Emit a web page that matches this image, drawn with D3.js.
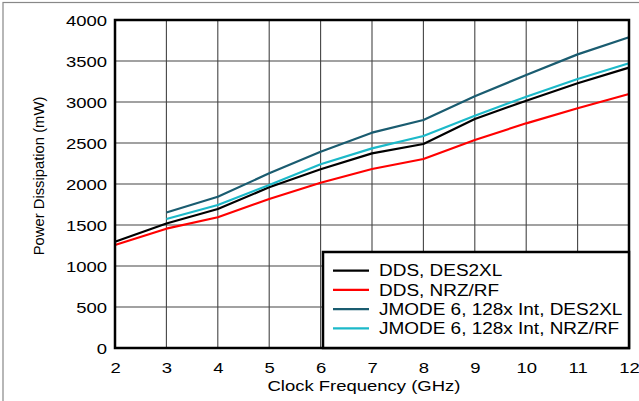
<!DOCTYPE html>
<html><head><meta charset="utf-8">
<script src="https://cdn.jsdelivr.net/npm/d3@7"></script>
<style>body{margin:0;background:#fff}svg{display:block}text{font-family:"Liberation Sans",Arial,sans-serif;fill:#000}</style>
</head><body>
<svg id="c" width="639" height="401"></svg>
<script>
const freqs = [2,3,4,5,6,7,8,9,10,11,12];
const ddsDes2xl = [1296,1518,1695,1960,2179,2374,2488,2793,3016,3228,3419];
const ddsNrz = [1256,1455,1594,1817,2016,2183,2305,2537,2740,2923,3098];
const jmodeDes2xl = [null,1652,1845,2130,2394,2626,2780,3070,3329,3581,3789];
const jmodeNrz = [null,1573,1744,1988,2240,2435,2585,2833,3065,3280,3472];
const seriesNames = ["DDS, DES2XL","DDS, NRZ/RF","JMODE 6, 128x Int, DES2XL","JMODE 6, 128x Int, NRZ/RF"];
const seriesColors = ["#000000","#ff0000","#1a5c70","#1cb9c9"];
const xTicks = [2,3,4,5,6,7,8,9,10,11,12];
const yTicks = [0,500,1000,1500,2000,2500,3000,3500,4000];

const seriesVals = [ddsDes2xl, ddsNrz, jmodeDes2xl, jmodeNrz];
const svg = d3.select("#c");
const L=115, R=629, T=20, B=348;
const x = d3.scaleLinear().domain([2,12]).range([L,R]);
const y = d3.scaleLinear().domain([0,4000]).range([B,T]);
const STRETCH = 1.2;
function stretch(sel){ sel.each(function(){ const w=this.getComputedTextLength(); d3.select(this).attr("textLength", w*STRETCH).attr("lengthAdjust","spacingAndGlyphs"); }); }

// outer border
svg.append("rect").attr("x",3).attr("y",2.5).attr("width",700).attr("height",500).attr("fill","none").attr("stroke","#888").attr("stroke-width",1.2);

// grid
const g = svg.append("g");
g.selectAll("line.vx").data(xTicks).join("line").attr("x1",d=>x(d)).attr("x2",d=>x(d)).attr("y1",T).attr("y2",B).attr("stroke","#444").attr("stroke-width",1.1);
g.selectAll("line.hy").data(yTicks).join("line").attr("y1",d=>y(d)).attr("y2",d=>y(d)).attr("x1",L).attr("x2",R).attr("stroke","#444").attr("stroke-width",1.1);

// series
const line = d3.line().defined(d=>d[1]!=null).x(d=>x(d[0])).y(d=>y(d[1]));
seriesVals.forEach((vals,i)=>{
  svg.append("path").datum(freqs.map((f,j)=>[f,vals[j]])).attr("d",line).attr("fill","none").attr("stroke",seriesColors[i]).attr("stroke-width",2.2).attr("stroke-linejoin","round");
});

// frame
svg.append("rect").attr("x",L).attr("y",T).attr("width",R-L).attr("height",B-T).attr("fill","none").attr("stroke","#000").attr("stroke-width",2.5);

// axes (labels only)
const xa = svg.append("g").attr("transform",`translate(0,${B})`).call(d3.axisBottom(x).tickValues(xTicks).tickSize(0).tickPadding(0).tickFormat(d3.format("d")));
xa.select(".domain").remove();
xa.selectAll("text").attr("y",24.5).attr("dy",null).style("font-size","15.4px").attr("font-family",null);
stretch(xa.selectAll("text"));
const ya = svg.append("g").attr("transform",`translate(${L},0)`).call(d3.axisLeft(y).tickValues(yTicks).tickSize(0).tickPadding(0).tickFormat(d3.format("d")));
ya.select(".domain").remove();
ya.selectAll("text").attr("x",-8).attr("dy","0.36em").style("font-size","15.4px").attr("font-family",null);
stretch(ya.selectAll("text"));

// axis titles
const xt = svg.append("text").attr("x",364).attr("y",390.5).attr("text-anchor","middle").style("font-size","15.4px").text("Clock Frequency (GHz)");
stretch(xt);
svg.append("text").attr("transform","translate(44,176) rotate(-90)").attr("text-anchor","middle").style("font-size","14.8px").text("Power Dissipation (mW)");

// legend
const lg = svg.append("g");
lg.append("rect").attr("x",323).attr("y",252).attr("width",R-323).attr("height",B-252).attr("fill","#fff").attr("stroke","#000").attr("stroke-width",2.5);
seriesNames.forEach((n,i)=>{
  const cy = 270.7 + i*19.2;
  lg.append("line").attr("x1",333).attr("x2",369).attr("y1",cy).attr("y2",cy).attr("stroke",seriesColors[i]).attr("stroke-width",2.2);
  const t = lg.append("text").attr("x",379).attr("y",cy+5.6).style("font-size","15.8px").text(n);
  stretch(t);
});
</script>
</body></html>
